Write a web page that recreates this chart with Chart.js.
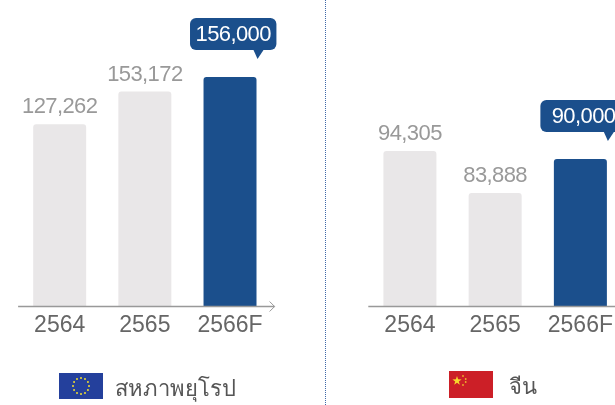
<!DOCTYPE html>
<html lang="th">
<head>
<meta charset="utf-8">
<title>Chart</title>
<script src="https://cdn.jsdelivr.net/npm/chart.js@4/dist/chart.umd.min.js"></script>
<style>
    html, body { margin: 0; padding: 0; width: 615px; height: 405px; overflow: hidden; background: #fff; }
    canvas { position: absolute; top: 0; }
    #euChart { left: 0; }
    #cnChart { left: 310px; }
    #divider { position: absolute; left: 325px; top: 0; height: 405px; border-left: 1px dotted #3f68a8; }
    .flag { position: absolute; display: block; }
    .name { position: absolute; font-family: "Noto Sans", "Liberation Sans", sans-serif; font-size: 22px; line-height: 30px; color: #555; white-space: nowrap; }
</style>
</head>
<body>
<canvas id="euChart" width="310" height="405"></canvas>
<canvas id="cnChart" width="330" height="405"></canvas>
<div id="divider"></div>

<svg class="flag" style="left:59px;top:373px" width="44" height="26" viewBox="0 0 44 26">
    <rect width="44" height="26" fill="#24409c"/>
    <g id="euStars" fill="#efdc30"></g>
</svg>
<div class="name" style="left:115px;top:372px">สหภาพยุโรป</div>

<svg class="flag" style="left:449px;top:371px" width="44" height="27" viewBox="0 0 44 27">
    <rect width="44" height="27" fill="#cc1f27"/>
    <polygon fill="#f7d92c" points="8,5 9.1,8.3 12.6,8.4 9.8,10.5 10.8,13.8 8,11.8 5.2,13.8 6.2,10.5 3.4,8.4 6.9,8.3"/>
    <g fill="#eeb32c">
        <circle cx="14" cy="5" r="0.9"/>
        <circle cx="16.7" cy="8" r="0.9"/>
        <circle cx="16.7" cy="11" r="0.9"/>
        <circle cx="14" cy="14" r="0.9"/>
    </g>
</svg>
<div class="name" style="left:509px;top:370px">จีน</div>

<script>
const years = ['2564', '2565', '2566F'];

// ความสูงแท่งอ่านจากภาพ (แท่งในภาพไม่ได้สัดส่วนกับตัวเลขที่พิมพ์)
const euBars = [123700, 146100, 156000];
const euLabels = ['127,262', '153,172', '156,000'];

const cnBars = [94900, 69200, 90000];
const cnLabels = ['94,305', '83,888', '90,000'];

const grey = '#e9e7e8';
const blue = '#1b4f8c';
const fontName = '"Liberation Sans", Arial, sans-serif';

// ป้ายตัวเลขเหนือแท่ง และ bubble ของแท่งสุดท้าย
const valueLabels = {
    id: 'valueLabels',
    afterDatasetsDraw(chart, args, opts) {
        const ctx = chart.ctx;
        const bars = chart.getDatasetMeta(0).data;
        ctx.save();
        ctx.font = '22px ' + fontName;
        ctx.letterSpacing = '-0.6px';
        ctx.textAlign = 'center';
        ctx.textBaseline = 'middle';
        bars.forEach((bar, i) => {
            if (i === bars.length - 1) {
                const left = bar.x - 40;
                const bottom = bar.y - 27;
                ctx.fillStyle = blue;
                ctx.beginPath();
                ctx.roundRect(left, bottom - 32, 86.4, 32, 6);
                ctx.fill();
                ctx.beginPath();
                ctx.moveTo(bar.x + 23.5, bottom);
                ctx.lineTo(bar.x + 33.5, bottom);
                ctx.lineTo(bar.x + 27.5, bottom + 9);
                ctx.closePath();
                ctx.fill();
                ctx.fillStyle = '#fff';
                ctx.fillText(opts.labels[i], left + 43.2, bottom - 15);
            } else {
                ctx.fillStyle = '#999';
                ctx.fillText(opts.labels[i], bar.x, bar.y - 17);
            }
        });
        ctx.restore();
    }
};

// เส้นแกน x พร้อมหัวลูกศร
const axisArrow = {
    id: 'axisArrow',
    afterDatasetsDraw(chart) {
        const ctx = chart.ctx;
        const area = chart.chartArea;
        const y = area.bottom + 0.5;
        ctx.save();
        ctx.strokeStyle = '#999';
        ctx.lineWidth = 1.3;
        ctx.beginPath();
        ctx.moveTo(area.left + 1, y);
        ctx.lineTo(area.right + 2, y);
        ctx.stroke();
        ctx.lineWidth = 1;
        ctx.beginPath();
        ctx.moveTo(area.right - 3, y - 5);
        ctx.lineTo(area.right + 2, y);
        ctx.lineTo(area.right - 3, y + 5);
        ctx.stroke();
        ctx.restore();
    }
};

function drawChart(id, values, labels, yMax, padding) {
    const ctx = document.getElementById(id).getContext('2d');
    return new Chart(ctx, {
        type: 'bar',
        data: {
            labels: years,
            datasets: [{
                data: values,
                backgroundColor: [grey, grey, blue],
                borderRadius: { topLeft: 3, topRight: 3 },
                borderSkipped: 'bottom',
                categoryPercentage: 1,
                barPercentage: 0.622
            }]
        },
        options: {
            responsive: false,
            animation: false,
            layout: { padding: padding },
            plugins: {
                legend: { display: false },
                tooltip: { enabled: false },
                valueLabels: { labels: labels }
            },
            scales: {
                x: {
                    grid: { display: false },
                    border: { display: false },
                    ticks: {
                        color: '#666',
                        font: { family: fontName, size: 23 },
                        padding: -2,
                        maxRotation: 0,
                        autoSkip: false
                    },
                    afterFit: scale => { scale.height = 40; }
                },
                y: { display: false, min: 0, max: yMax }
            }
        },
        plugins: [valueLabels, axisArrow]
    });
}

// ดาวบนธงสหภาพยุโรป
const stars = document.getElementById('euStars');
for (let i = 0; i < 12; i++) {
    const a = i * Math.PI / 6;
    const c = document.createElementNS('http://www.w3.org/2000/svg', 'circle');
    c.setAttribute('cx', 22 + 8 * Math.sin(a));
    c.setAttribute('cy', 13 - 8 * Math.cos(a));
    c.setAttribute('r', 1);
    stars.appendChild(c);
}

drawChart('euChart', euBars, euLabels, 208400, { left: 17.1, right: 37.4, top: 0, bottom: 59 });
drawChart('cnChart', cnBars, cnLabels, 187300, { left: 57.3, right: 17, top: 0, bottom: 59 });
</script>
</body>
</html>
